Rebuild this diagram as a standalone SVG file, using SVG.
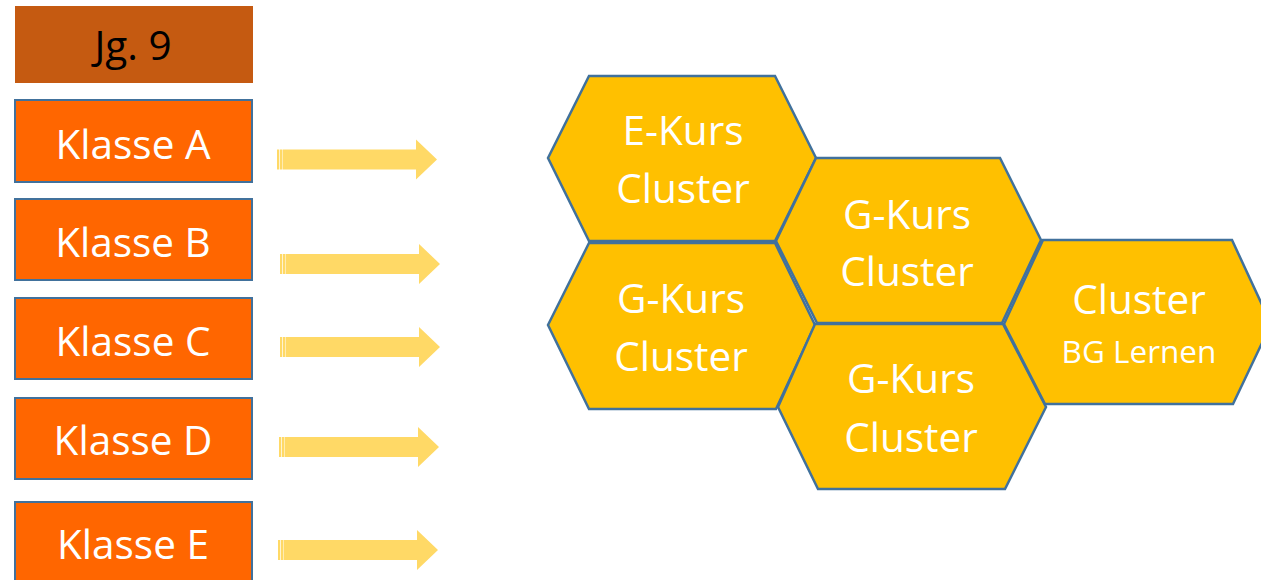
<svg xmlns="http://www.w3.org/2000/svg" width="1261" height="580" viewBox="0 0 1261 580">
<style>
.klasse{fill:#FF6600;stroke:#41719C;stroke-width:2}
.hex{fill:#FFC000;stroke:#41719C;stroke-width:2.5;stroke-linejoin:miter}
.t{font-family:"Open Sans","Liberation Sans",sans-serif;font-size:40.5px;fill:#FFFFFF;text-anchor:middle}
.dark{fill:#000000}
.small{font-size:31.5px}
.arrow{fill:#FFD966}
</style>
<defs>
<g id="arr">
<rect x="0" y="-10" width="2" height="20" class="arrow"/>
<rect x="2.7" y="-10" width="2.8" height="20" class="arrow"/>
<path d="M6,-10 H139 V-20 L160,0 L139,20 V10 H6 Z" class="arrow"/>
</g>
</defs>
<rect width="1261" height="580" fill="#FFFFFF"/>
<g id="jg9">
<rect x="15" y="6" width="238" height="77" fill="#C55A11"/>
<text x="133" y="60" class="t dark">Jg. 9</text>
</g>
<g id="klasseA">
<rect x="15" y="100" width="237" height="82" class="klasse"/>
<text x="133" y="159" class="t">Klasse A</text>
</g>
<g id="klasseB">
<rect x="15" y="199" width="237" height="81" class="klasse"/>
<text x="133" y="257" class="t">Klasse B</text>
</g>
<g id="klasseC">
<rect x="15" y="298" width="237" height="81" class="klasse"/>
<text x="133" y="356" class="t">Klasse C</text>
</g>
<g id="klasseD">
<rect x="15" y="398" width="237" height="81" class="klasse"/>
<text x="133" y="455" class="t">Klasse D</text>
</g>
<g id="klasseE">
<rect x="15" y="502" width="237" height="84" class="klasse"/>
<text x="133" y="559" class="t">Klasse E</text>
</g>
<g id="connectors">
<use href="#arr" transform="translate(277,159.5)"/>
<use href="#arr" transform="translate(280,264)"/>
<use href="#arr" transform="translate(280,347)"/>
<use href="#arr" transform="translate(279,447)"/>
<use href="#arr" transform="translate(278,550)"/>
</g>
<g id="hexEKurs">
<polygon points="589,76 775,76 816,158 775,241 589,241 548,158" class="hex"/>
<text x="683" y="145" class="t">E-Kurs</text>
<text x="683" y="203" class="t">Cluster</text>
</g>
<g id="hexGKurs1">
<polygon points="816,158 1000,158 1041,240 1002,323 817,323 776,241" class="hex"/>
<text x="907" y="229" class="t">G-Kurs</text>
<text x="907" y="286" class="t">Cluster</text>
</g>
<g id="hexGKurs2">
<polygon points="589,243 775,243 815,325 776,409 589,409 548,325" class="hex"/>
<text x="681" y="313" class="t">G-Kurs</text>
<text x="681" y="371" class="t">Cluster</text>
</g>
<g id="hexGKurs3">
<polygon points="815,324 1003,324 1046,407 1005,489 818,489 778,407" class="hex"/>
<text x="911" y="393" class="t">G-Kurs</text>
<text x="911" y="452" class="t">Cluster</text>
</g>
<g id="hexBG">
<polygon points="1043,240 1232,240 1271,324 1233,404 1045,404 1004,324" class="hex"/>
<text x="1139" y="314" class="t">Cluster</text>
<text x="1139" y="363" class="t small">BG Lernen</text>
</g>
</svg>
